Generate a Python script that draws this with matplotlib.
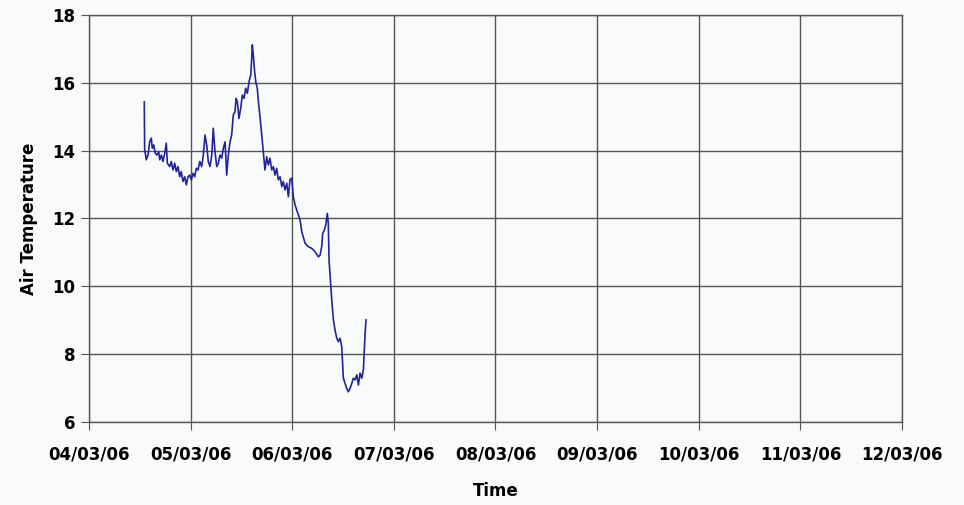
import numpy as np
import pandas as pd
import matplotlib
matplotlib.use("Agg")
import matplotlib.pyplot as plt
import matplotlib.dates as mdates

# days elapsed since 04/03/06 and air temperature readings
days = [0.544, 0.548, 0.554, 0.564, 0.581, 0.597, 0.613, 0.623, 0.637, 0.653,
        0.669, 0.686, 0.696, 0.712, 0.728, 0.745, 0.761, 0.771, 0.794, 0.810,
        0.827, 0.844, 0.859, 0.876, 0.893, 0.908, 0.925, 0.942, 0.958, 0.974,
        0.991, 1.007, 1.024, 1.040, 1.056, 1.073, 1.090, 1.109, 1.125, 1.142,
        1.158, 1.174, 1.191, 1.208, 1.223, 1.240, 1.257, 1.273, 1.289, 1.306,
        1.322, 1.339, 1.355, 1.371, 1.388, 1.404, 1.420, 1.437, 1.447, 1.460,
        1.476, 1.493, 1.509, 1.526, 1.542, 1.558, 1.575, 1.592, 1.601, 1.607,
        1.617, 1.627, 1.641, 1.656, 1.668, 1.683, 1.700, 1.716, 1.732, 1.749,
        1.765, 1.781, 1.798, 1.814, 1.831, 1.847, 1.863, 1.880, 1.897, 1.912,
        1.929, 1.946, 1.962, 1.978, 1.995, 2.011, 2.028, 2.044, 2.077, 2.094,
        2.126, 2.158, 2.192, 2.224, 2.257, 2.274, 2.290, 2.300, 2.316, 2.330,
        2.345, 2.355, 2.362, 2.375, 2.389, 2.405, 2.421, 2.438, 2.454, 2.470,
        2.487, 2.503, 2.520, 2.536, 2.552, 2.569, 2.586, 2.601, 2.618, 2.635,
        2.651, 2.667, 2.684, 2.700, 2.717, 2.726]
temps = [15.44, 14.02, 13.92, 13.73, 13.87, 14.26, 14.37, 14.07, 14.17, 13.92,
         13.87, 13.97, 13.73, 13.87, 13.68, 13.92, 14.22, 13.63, 13.53, 13.68,
         13.43, 13.63, 13.38, 13.53, 13.23, 13.38, 13.09, 13.23, 12.99, 13.23,
         13.28, 13.14, 13.33, 13.23, 13.48, 13.43, 13.68, 13.53, 13.87, 14.46,
         14.17, 13.68, 13.53, 13.87, 14.66, 13.97, 13.53, 13.63, 13.87, 13.78,
         14.07, 14.26, 13.28, 13.87, 14.26, 14.46, 15.05, 15.15, 15.54, 15.44,
         14.95, 15.25, 15.64, 15.54, 15.84, 15.69, 16.03, 16.23, 16.72, 17.12,
         16.82, 16.43, 16.03, 15.84, 15.41, 15.00, 14.46, 13.97, 13.43, 13.82,
         13.58, 13.78, 13.43, 13.53, 13.28, 13.48, 13.14, 13.23, 12.94, 13.09,
         12.84, 13.04, 12.64, 13.14, 13.19, 12.64, 12.40, 12.25, 11.96, 11.61,
         11.27, 11.17, 11.12, 11.02, 10.87, 10.92, 11.17, 11.56, 11.66, 11.81,
         12.15, 11.86, 10.78, 10.19, 9.60, 9.01, 8.71, 8.47, 8.37, 8.47,
         8.22, 7.29, 7.14, 6.99, 6.89, 6.99, 7.14, 7.29, 7.24, 7.39,
         7.09, 7.44, 7.29, 7.53, 8.62, 9.01]

start = pd.Timestamp("2006-03-04")
end = pd.Timestamp("2006-03-12")
times = start + pd.to_timedelta(days, unit="D")

bg = "#f8fbfa"
gridc = "#555555"

fig = plt.figure(figsize=(9.64, 5.05), dpi=100, facecolor=bg)
ax = fig.add_axes([0.0923, 0.1644, 0.8434, 0.8059], facecolor=bg)

ax.plot(times, temps, color="#24249a", linewidth=1.2)

ax.set_xlim(start, end)
ax.set_ylim(6, 18)
ax.set_yticks(np.arange(6, 19, 2))
ax.xaxis.set_major_locator(mdates.DayLocator())
ax.xaxis.set_major_formatter(mdates.DateFormatter("%d/%m/%y"))

ax.grid(True, color=gridc, linewidth=1.0)
for s in ax.spines.values():
    s.set_color(gridc)
    s.set_linewidth(1.0)

ax.tick_params(direction="out", length=6, color=gridc, labelsize=12)
ax.tick_params(axis="x", pad=11)
ax.tick_params(axis="y", pad=4)
for lab in ax.get_xticklabels() + ax.get_yticklabels():
    lab.set_fontweight("bold")

ax.set_xlabel("Time", fontsize=12, fontweight="bold", labelpad=13)
ax.set_ylabel("Air Temperature", fontsize=12, fontweight="bold", labelpad=10)

fig.savefig("out.png", dpi=100, facecolor=bg)
